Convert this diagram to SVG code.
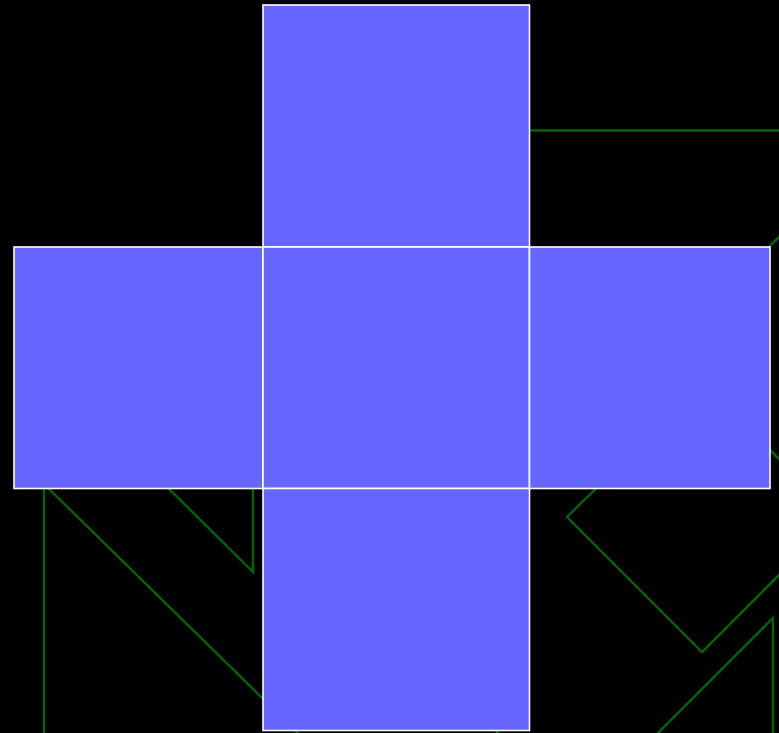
<svg xmlns="http://www.w3.org/2000/svg" width="779" height="733" viewBox="0 0 779 733">
  <style>
    .ln { fill: none; stroke: #006600; stroke-width: 2.3; stroke-linejoin: miter; }
    .face { fill: #6666ff; stroke: #ffffff; stroke-width: 1.6; }
  </style>
  <rect x="0" y="0" width="779" height="733" fill="#000000"/>
  <g id="connectors">
    <polyline class="ln" points="400,130.5 790,130.5"/>
    <polyline class="ln" points="740,276 790,226"/>
    <polyline class="ln" points="740,420 790,470"/>
    <polyline class="ln" points="44,740 44,484 305,740"/>
    <polyline class="ln" points="150,470 253,572 253,470"/>
    <polyline class="ln" points="620,465 567,517 702,652 790,564"/>
    <polyline class="ln" points="650,741 773,618 773,740"/>
    <polyline class="ln" points="484,716 504,740"/>
  </g>
  <g id="face-top"><rect class="face" x="263" y="5" width="266.5" height="242"/></g>
  <g id="face-left"><rect class="face" x="14" y="247" width="249" height="241.5"/></g>
  <g id="face-center"><rect class="face" x="263" y="247" width="266.5" height="241.5"/></g>
  <g id="face-right"><rect class="face" x="529.5" y="247" width="240.5" height="241.5"/></g>
  <g id="face-bottom"><rect class="face" x="263" y="488.5" width="266.5" height="242"/></g>
</svg>
